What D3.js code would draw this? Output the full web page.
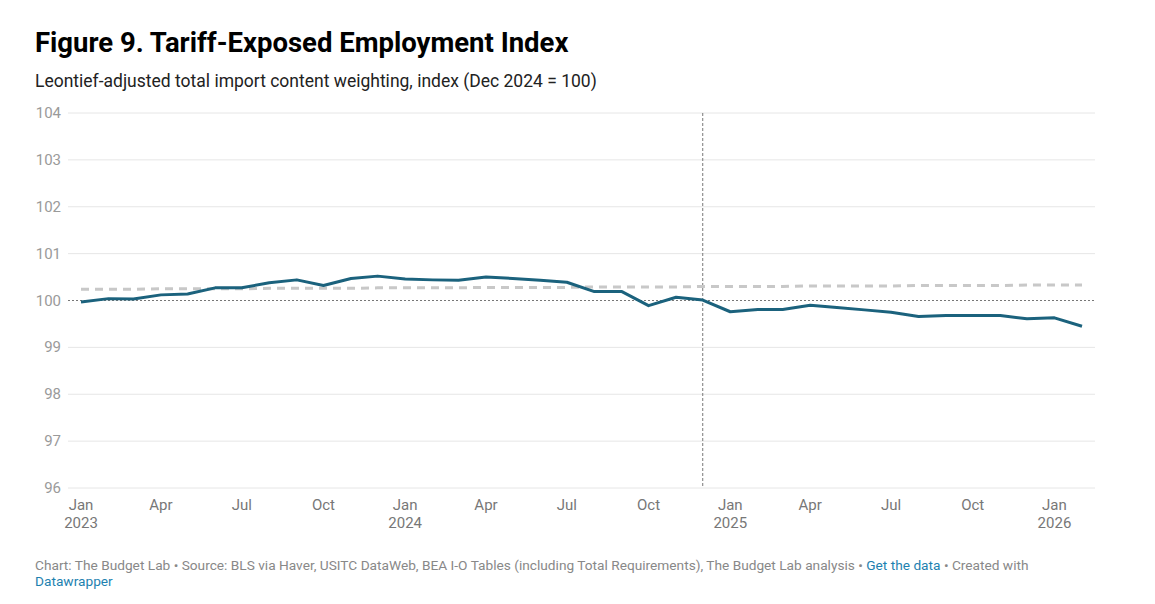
<!DOCTYPE html>
<html>
<head>
<meta charset="utf-8">
<script src="https://cdn.jsdelivr.net/npm/d3@7"></script>
<style>
  body { margin: 0; background: #fff; font-family: Roboto, "Noto Sans", sans-serif; }
  svg { display: block; }
</style>
</head>
<body>
<div id="chart"></div>
<script>
// monthly values, Jan 2023 .. Feb 2026
const months = [
  "2023-01","2023-02","2023-03","2023-04","2023-05","2023-06","2023-07","2023-08","2023-09","2023-10","2023-11","2023-12",
  "2024-01","2024-02","2024-03","2024-04","2024-05","2024-06","2024-07","2024-08","2024-09","2024-10","2024-11","2024-12",
  "2025-01","2025-02","2025-03","2025-04","2025-05","2025-06","2025-07","2025-08","2025-09","2025-10","2025-11","2025-12",
  "2026-01","2026-02"
];
const indexValues = [
  99.97, 100.04, 100.03, 100.12, 100.14, 100.27, 100.27, 100.38, 100.44, 100.32, 100.47, 100.52,
  100.46, 100.44, 100.43, 100.50, 100.47, 100.43, 100.39, 100.19, 100.19, 99.89, 100.07, 100.01,
  99.76, 99.81, 99.81, 99.90, 99.85, 99.80, 99.75, 99.66, 99.68, 99.68, 99.68, 99.61,
  99.63, 99.45
];
const trendValues = [
  100.24, 100.24, 100.24, 100.25, 100.25, 100.25, 100.25, 100.26, 100.26, 100.26, 100.26, 100.27,
  100.27, 100.27, 100.27, 100.28, 100.28, 100.28, 100.28, 100.29, 100.29, 100.29, 100.29, 100.30,
  100.30, 100.30, 100.30, 100.31, 100.31, 100.31, 100.31, 100.32, 100.32, 100.32, 100.32, 100.33,
  100.33, 100.33
];
const yTicks = [96, 97, 98, 99, 100, 101, 102, 103, 104];
const xTickMonths = [
  "2023-01","2023-04","2023-07","2023-10","2024-01","2024-04","2024-07","2024-10",
  "2025-01","2025-04","2025-07","2025-10","2026-01"
];
const markerMonth = "2024-12";
const baseline = 100;

const title = "Figure 9. Tariff-Exposed Employment Index";
const subtitle = "Leontief-adjusted total import content weighting, index (Dec 2024 = 100)";

const W = 1155, H = 604;
const parse = d3.timeParse("%Y-%m");
const fmtMonth = d3.timeFormat("%b");
const fmtYear = d3.timeFormat("%Y");

const svg = d3.select("#chart").append("svg").attr("width", W).attr("height", H);

// header
svg.append("text").attr("x", 35).attr("y", 52)
  .style("font-size", "27.5px").style("font-weight", 700).attr("fill", "#000")
  .text(title);
svg.append("text").attr("x", 35).attr("y", 87)
  .style("font-size", "17.5px").attr("fill", "#222")
  .text(subtitle);

const x = d3.scaleTime()
  .domain([parse(months[0]), parse(months[months.length - 1])])
  .range([81, 1082]);
const y = d3.scaleLinear().domain([96, 104]).range([488, 113]);

// gridlines + y labels
const grid = svg.append("g");
grid.selectAll("line").data(yTicks.filter(d => d !== baseline)).join("line")
  .attr("x1", 68).attr("x2", 1095)
  .attr("y1", d => y(d)).attr("y2", d => y(d))
  .attr("stroke", "#e6e6e6").attr("stroke-width", 1);
grid.selectAll("text").data(yTicks).join("text")
  .attr("x", 61).attr("y", d => y(d) + 5)
  .attr("text-anchor", "end")
  .style("font-size", "15px").attr("fill", "#9a9a9a")
  .text(d => d);

// baseline at 100
svg.append("line")
  .attr("x1", 68).attr("x2", 1095)
  .attr("y1", y(baseline)).attr("y2", y(baseline))
  .attr("stroke", "#777").attr("stroke-width", 1).attr("stroke-dasharray", "2,2");

// vertical marker
svg.append("line")
  .attr("x1", x(parse(markerMonth))).attr("x2", x(parse(markerMonth)))
  .attr("y1", y(104)).attr("y2", y(96))
  .attr("stroke", "#777").attr("stroke-width", 1).attr("stroke-dasharray", "3,2");

// x axis labels
const xl = svg.append("g").selectAll("text").data(xTickMonths.map(parse)).join("text")
  .attr("x", d => x(d)).attr("y", 510)
  .attr("text-anchor", "middle")
  .style("font-size", "15px").attr("fill", "#777");
xl.append("tspan").text(d => fmtMonth(d));
xl.filter(d => d.getMonth() === 0).append("tspan")
  .attr("x", d => x(d)).attr("dy", 18)
  .text(d => fmtYear(d));

// lines
const line = vals => d3.line()
  .x((d, i) => x(parse(months[i])))
  .y(d => y(d))(vals);

svg.append("path").attr("d", line(trendValues))
  .attr("fill", "none").attr("stroke", "#c8c8c8")
  .attr("stroke-width", 3).attr("stroke-dasharray", "8,6");

svg.append("path").attr("d", line(indexValues))
  .attr("fill", "none").attr("stroke", "#1b627d")
  .attr("stroke-width", 3).attr("stroke-linejoin", "round");

// footer
const foot = svg.append("text").attr("x", 35).attr("y", 570)
  .style("font-size", "13.7px").attr("fill", "#888");
foot.append("tspan").text("Chart: The Budget Lab • Source: BLS via Haver, USITC DataWeb, BEA I-O Tables (including Total Requirements), The Budget Lab analysis • ");
foot.append("tspan").attr("fill", "#1d81b0").text("Get the data");
foot.append("tspan").text(" • Created with");
svg.append("text").attr("x", 35).attr("y", 586)
  .style("font-size", "13.7px").attr("fill", "#1d81b0")
  .text("Datawrapper");
</script>
</body>
</html>
